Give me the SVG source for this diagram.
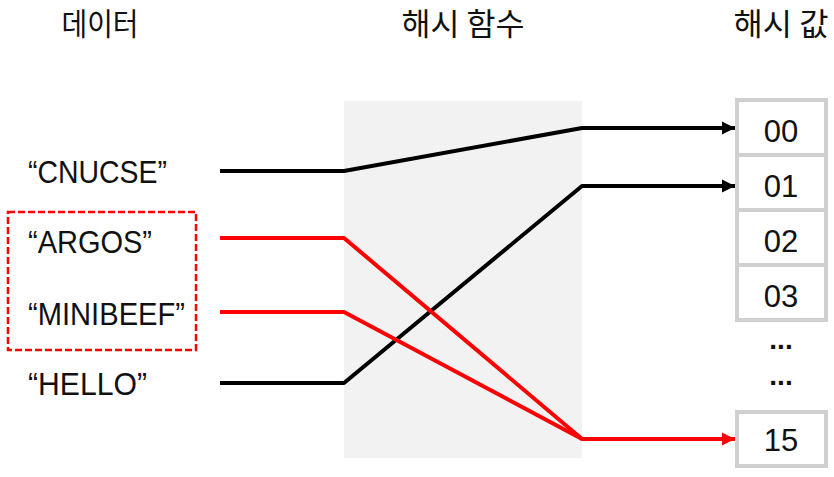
<svg xmlns="http://www.w3.org/2000/svg" width="834" height="477" viewBox="0 0 834 477">
<style>
.title{font-family:"Noto Sans CJK KR","Noto Sans",sans-serif;font-size:31px;font-weight:400;fill:#111;text-anchor:middle}
.lbl{font-family:"Liberation Sans",Arial,sans-serif;font-size:32px;fill:#111}
.num{font-family:"Liberation Sans",Arial,sans-serif;font-size:31px;fill:#111;text-anchor:middle}
.dots{font-family:"Liberation Sans",Arial,sans-serif;font-size:28px;font-weight:bold;fill:#111;text-anchor:middle}
.cell{fill:#fff;stroke:#d0d0d0;stroke-width:4}
.blk{fill:none;stroke:#000;stroke-width:4;stroke-linejoin:round}
.red{fill:none;stroke:#ff0000;stroke-width:4;stroke-linejoin:round}
</style>
<defs>
<marker id="ab" markerUnits="userSpaceOnUse" markerWidth="14" markerHeight="14" refX="13" refY="6.5" orient="auto" viewBox="0 0 14 13"><path d="M0,0 L13,6.5 L0,13 z" fill="#000"/></marker>
<marker id="ar" markerUnits="userSpaceOnUse" markerWidth="14" markerHeight="14" refX="13" refY="6.5" orient="auto" viewBox="0 0 14 13"><path d="M0,0 L13,6.5 L0,13 z" fill="#ff0000"/></marker>
</defs>
<g id="titles">
<text class="title" x="100" y="35" textLength="77" lengthAdjust="spacingAndGlyphs">데이터</text>
<text class="title" x="463" y="35" textLength="123" lengthAdjust="spacingAndGlyphs">해시 함수</text>
<text class="title" x="781" y="35" textLength="95" lengthAdjust="spacingAndGlyphs">해시 값</text>
</g>
<g id="hash-function"><rect x="344" y="101" width="238" height="357" fill="#f2f2f2"/></g>
<g id="group-box"><rect x="8" y="212" width="188" height="138" fill="none" stroke="#ff0000" stroke-width="2.5" stroke-dasharray="7,3"/></g>
<g id="data">
<text class="lbl" x="28" y="183" textLength="139" lengthAdjust="spacingAndGlyphs">“CNUCSE”</text>
<text class="lbl" x="28" y="253" textLength="124" lengthAdjust="spacingAndGlyphs">“ARGOS”</text>
<text class="lbl" x="28" y="325" textLength="157" lengthAdjust="spacingAndGlyphs">“MINIBEEF”</text>
<text class="lbl" x="28" y="395" textLength="119" lengthAdjust="spacingAndGlyphs">“HELLO”</text>
</g>
<g id="hash-values">
<g id="v00"><rect class="cell" x="737" y="100" width="89" height="55"/><text class="num" x="781" y="142">00</text></g>
<g id="v01"><rect class="cell" x="737" y="155" width="89" height="55"/><text class="num" x="781" y="197">01</text></g>
<g id="v02"><rect class="cell" x="737" y="210" width="89" height="55"/><text class="num" x="781" y="252">02</text></g>
<g id="v03"><rect class="cell" x="737" y="265" width="89" height="55"/><text class="num" x="781" y="307">03</text></g>
<text class="dots" x="781" y="349">...</text>
<text class="dots" x="781" y="385">...</text>
<g id="v15"><rect class="cell" x="737" y="412" width="89" height="54"/><text class="num" x="781" y="451">15</text></g>
</g>
<g id="connectors">
<polyline class="blk" points="220,171 344,171 582,128 735,128" marker-end="url(#ab)"/>
<polyline class="blk" points="220,383 344,383 582,186 735,186" marker-end="url(#ab)"/>
<polyline class="red" points="220,238 344,238 582,439 735,439" marker-end="url(#ar)"/>
<polyline class="red" points="220,312 344,312 582,439"/>
</g>
</svg>
